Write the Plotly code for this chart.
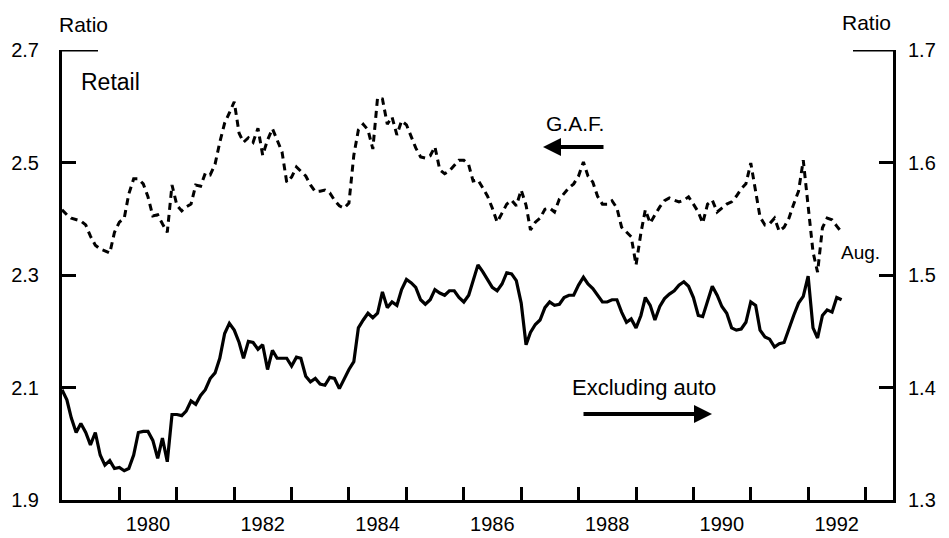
import plotly.graph_objects as go
import pandas as pd

# Monthly ratios, Jan 1979 .. Aug 1992
gaf = [
    2.416, 2.407, 2.401, 2.398, 2.396, 2.389, 2.369, 2.353, 2.346, 2.343, 2.339, 2.376,  # 1979
    2.394, 2.401, 2.444, 2.471, 2.471, 2.462, 2.439, 2.405, 2.407, 2.391, 2.376, 2.460,  # 1980
    2.424, 2.414, 2.421, 2.426, 2.460, 2.458, 2.481, 2.478, 2.497, 2.536, 2.570, 2.588,  # 1981
    2.608, 2.552, 2.536, 2.544, 2.536, 2.561, 2.513, 2.540, 2.560, 2.540, 2.519, 2.465,  # 1982
    2.474, 2.492, 2.485, 2.476, 2.460, 2.448, 2.449, 2.451, 2.446, 2.433, 2.423, 2.419,  # 1983
    2.428, 2.513, 2.558, 2.568, 2.558, 2.524, 2.615, 2.613, 2.568, 2.581, 2.549, 2.574,  # 1984
    2.567, 2.547, 2.526, 2.510, 2.508, 2.512, 2.528, 2.487, 2.480, 2.485, 2.494, 2.504,  # 1985
    2.504, 2.496, 2.467, 2.469, 2.455, 2.440, 2.419, 2.394, 2.410, 2.426, 2.433, 2.423,  # 1986
    2.451, 2.424, 2.380, 2.394, 2.401, 2.417, 2.419, 2.412, 2.435, 2.444, 2.455, 2.462,  # 1987
    2.476, 2.501, 2.476, 2.465, 2.440, 2.426, 2.426, 2.432, 2.419, 2.385, 2.376, 2.368,  # 1988
    2.318, 2.375, 2.416, 2.392, 2.407, 2.421, 2.432, 2.437, 2.433, 2.430, 2.433, 2.439,  # 1989
    2.426, 2.412, 2.392, 2.426, 2.433, 2.412, 2.419, 2.426, 2.430, 2.440, 2.453, 2.462,  # 1990
    2.499, 2.448, 2.403, 2.389, 2.391, 2.401, 2.378, 2.385, 2.401, 2.426, 2.449, 2.504,  # 1991
    2.424, 2.341, 2.305, 2.384, 2.401, 2.398, 2.387, 2.376,                              # 1992
]

excluding_auto = [
    1.398, 1.389, 1.373, 1.360, 1.368, 1.360, 1.349, 1.360, 1.340, 1.331, 1.335, 1.328,  # 1979
    1.329, 1.326, 1.328, 1.340, 1.360, 1.361, 1.361, 1.353, 1.337, 1.355, 1.334, 1.376,  # 1980
    1.376, 1.375, 1.379, 1.388, 1.385, 1.393, 1.398, 1.408, 1.413, 1.426, 1.448, 1.457,  # 1981
    1.451, 1.440, 1.426, 1.441, 1.440, 1.434, 1.438, 1.416, 1.433, 1.426, 1.426, 1.426,  # 1982
    1.419, 1.427, 1.426, 1.410, 1.405, 1.408, 1.403, 1.402, 1.409, 1.408, 1.399, 1.408,  # 1983
    1.416, 1.423, 1.453, 1.460, 1.466, 1.462, 1.466, 1.485, 1.471, 1.476, 1.473, 1.487,  # 1984
    1.496, 1.493, 1.489, 1.478, 1.474, 1.478, 1.487, 1.484, 1.482, 1.486, 1.486, 1.480,  # 1985
    1.476, 1.482, 1.494, 1.509, 1.503, 1.496, 1.489, 1.486, 1.492, 1.502, 1.501, 1.495,  # 1986
    1.475, 1.438, 1.449, 1.456, 1.460, 1.471, 1.476, 1.473, 1.474, 1.480, 1.482, 1.482,  # 1987
    1.491, 1.498, 1.492, 1.488, 1.482, 1.476, 1.476, 1.478, 1.478, 1.467, 1.458, 1.461,  # 1988
    1.453, 1.464, 1.480, 1.473, 1.460, 1.472, 1.479, 1.483, 1.486, 1.491, 1.494, 1.490,  # 1989
    1.480, 1.464, 1.463, 1.478, 1.490, 1.482, 1.472, 1.466, 1.453, 1.451, 1.452, 1.458,  # 1990
    1.476, 1.473, 1.451, 1.445, 1.443, 1.436, 1.439, 1.440, 1.453, 1.464, 1.475, 1.481,  # 1991
    1.499, 1.453, 1.444, 1.464, 1.469, 1.467, 1.480, 1.478,                              # 1992
]

months = pd.date_range("1979-01-01", periods=len(gaf), freq="MS")

left_ticks = [1.9, 2.1, 2.3, 2.5, 2.7]
right_ticks = [1.3, 1.4, 1.5, 1.6, 1.7]
label_years = [1980, 1982, 1984, 1986, 1988, 1990, 1992]
tick_years = list(range(1980, 1994))

W, H = 949, 538
L, R, T, B = 62, 56, 50, 38
PW, PH = W - L - R, H - T - B
FONT = "Liberation Sans, Arial, Helvetica, sans-serif"


def px(xp):
    return (xp - L) / PW


def py(yp):
    return (T + PH - yp) / PH


fig = go.Figure()
fig.add_trace(go.Scatter(
    x=months, y=gaf, mode="lines", name="G.A.F.",
    line=dict(color="black", width=3, dash="7px,5px"),
    yaxis="y", hoverinfo="skip"))
fig.add_trace(go.Scatter(
    x=months, y=excluding_auto, mode="lines", name="Excluding auto",
    line=dict(color="black", width=3.2),
    yaxis="y2", hoverinfo="skip"))

axis_common = dict(
    showgrid=False, zeroline=False, showline=True, linecolor="black",
    linewidth=3, ticks="inside", ticklen=14, tickwidth=2.5, tickcolor="black",
    tickfont=dict(family=FONT, size=20, color="black"), tickformat=".1f",
    automargin=False,
)

fig.update_layout(
    width=W, height=H,
    margin=dict(l=L, r=R, t=T, b=B, pad=0, autoexpand=False),
    paper_bgcolor="white", plot_bgcolor="white",
    showlegend=False,
    font=dict(family=FONT, color="black"),
    xaxis=dict(
        type="date",
        range=["1979-01-01", "1993-06-24"],
        automargin=False,
        showgrid=False, zeroline=False, showline=True, linecolor="black", linewidth=3,
        tickmode="array",
        tickvals=[f"{y}-07-01" for y in label_years],
        ticktext=[str(y) for y in label_years],
        ticks="",
        ticklabelstandoff=4,
        tickfont=dict(family=FONT, size=20, color="black"),
        minor=dict(tickmode="array", tickvals=[f"{y}-01-01" for y in tick_years],
                   ticks="inside", ticklen=13, tickwidth=2.5, tickcolor="black",
                   showgrid=False),
    ),
    yaxis=dict(range=[1.9, 2.7], tickmode="array", tickvals=left_ticks,
               side="left", ticklabelstandoff=16, **axis_common),
    yaxis2=dict(range=[1.3, 1.7], tickmode="array", tickvals=right_ticks,
                side="right", overlaying="y", ticklabelstandoff=8, **axis_common),
)

# longer top bars on both axes
fig.add_shape(type="line", xref="paper", yref="y", x0=0, x1=px(98), y0=2.7, y1=2.7,
              line=dict(color="black", width=3))
fig.add_shape(type="line", xref="paper", yref="y2", x0=px(853), x1=1, y0=1.7, y1=1.7,
              line=dict(color="black", width=3))

ann = [
    dict(text="Ratio", x=px(57), y=py(24), xanchor="left", size=21),
    dict(text="Ratio", x=px(893), y=py(22), xanchor="right", size=21),
    dict(text="Retail", x=px(79), y=py(82), xanchor="left", size=23),
    dict(text="G.A.F.", x=px(575), y=py(124), xanchor="center", size=21),
    dict(text="Excluding auto", x=px(644), y=py(387), xanchor="center", size=22),
    dict(text="Aug.", x=px(839), y=py(252), xanchor="left", size=19),
]
for a in ann:
    fig.add_annotation(text=a["text"], x=a["x"], y=a["y"], xref="paper", yref="paper",
                       xanchor=a["xanchor"], yanchor="middle", showarrow=False,
                       font=dict(family=FONT, size=a["size"], color="black"))

# direction arrows
fig.add_annotation(x=px(543), y=py(147), xref="paper", yref="paper", text="",
                   showarrow=True, ax=62, ay=0, arrowhead=2, arrowsize=0.9,
                   arrowwidth=4, arrowcolor="black")
fig.add_annotation(x=px(712), y=py(414), xref="paper", yref="paper", text="",
                   showarrow=True, ax=-130, ay=0, arrowhead=2, arrowsize=0.9,
                   arrowwidth=4, arrowcolor="black")

fig.write_html(
    "out.html",
    config={"displayModeBar": False},
    post_script="document.body.style.margin='0';document.body.style.overflow='hidden';",
)
